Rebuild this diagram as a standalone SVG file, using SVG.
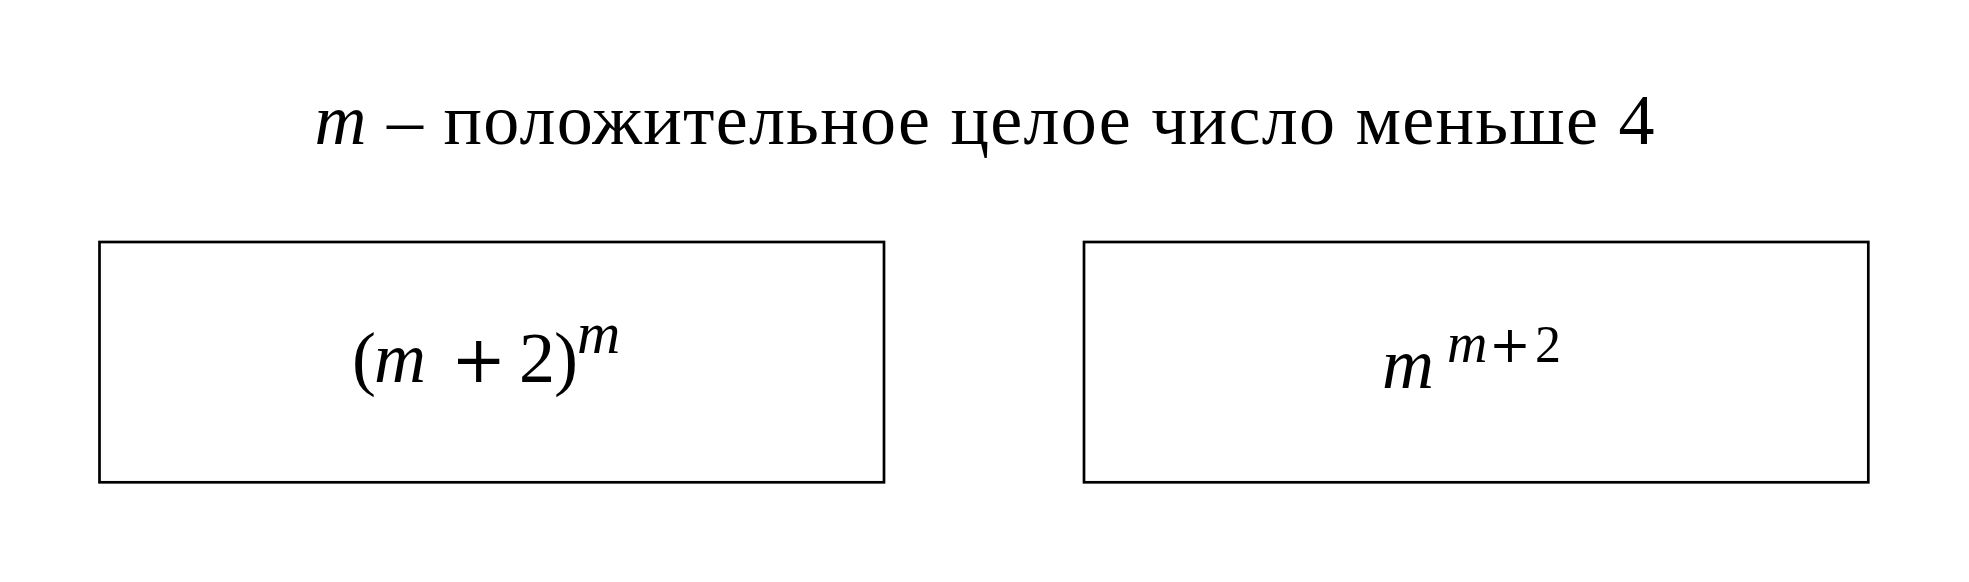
<svg xmlns="http://www.w3.org/2000/svg" width="1969" height="582" viewBox="0 0 1969 582">
<style>
.t{font-family:"Liberation Serif","DejaVu Serif",serif;fill:#000}
.i{font-style:italic}
.p{font-family:"DejaVu Serif",serif}
.box{fill:#fff;stroke:#000;stroke-width:2.7}
</style>
<rect x="0" y="0" width="1969" height="582" fill="#fff"/>
<g id="title">
<text class="t" x="984.5" y="144" font-size="72" text-anchor="middle" textLength="1340" lengthAdjust="spacing"><tspan class="i">m</tspan> – положительное целое число меньше 4</text>
</g>
<g id="node1">
<rect class="box" x="99.5" y="242" width="784.5" height="240.3"/>
<text class="t" y="381.7" font-size="72"><tspan x="352">(</tspan><tspan class="i" x="374">m</tspan><tspan class="p" x="451" font-size="66">+</tspan><tspan x="519">2</tspan><tspan x="554">)</tspan><tspan class="i" x="577" y="353" font-size="60">m</tspan></text>
</g>
<g id="node2">
<rect class="box" x="1084" y="242" width="784.3" height="240.3"/>
<text class="t" y="388" font-size="72"><tspan class="i" x="1382">m</tspan><tspan class="i" x="1447" y="361.7" font-size="56">m</tspan><tspan class="p" x="1489" y="361.7" font-size="50">+</tspan><tspan x="1535" y="361.7" font-size="52">2</tspan></text>
</g>
<g id="connectors"></g>
</svg>
